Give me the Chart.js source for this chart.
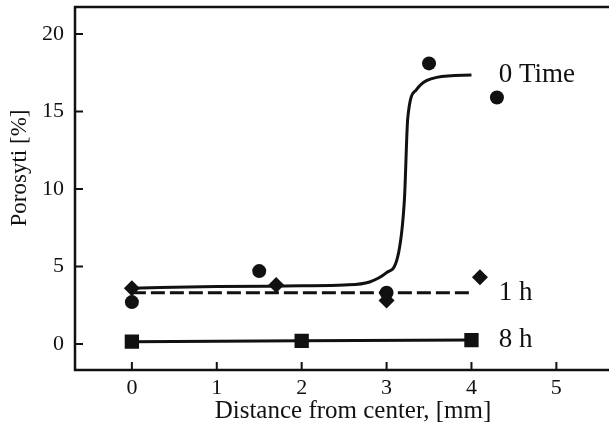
<!DOCTYPE html>
<html>
<head>
<meta charset="utf-8">
<script src="https://cdn.jsdelivr.net/npm/chart.js@4/dist/chart.umd.min.js"></script>
<style>
  body { margin: 0; background: #fff; }
  #wrap { width: 609px; height: 428px; }
</style>
</head>
<body>
<div id="wrap"><canvas id="porosityChart" width="609" height="428"></canvas></div>
<script>
// measured points, 0 Time (circles)
const time0X = [0, 1.5, 3, 3.5, 4.3];
const time0Y = [2.7, 4.7, 3.3, 18.1, 15.9];
// fitted curve for 0 Time
const curve0X = [0, 1, 2, 2.5, 2.8, 3.0, 3.13, 3.21, 3.25, 3.35, 3.59, 4.0];
const curve0Y = [3.6, 3.7, 3.75, 3.8, 4.0, 4.6, 5.6, 9.3, 14.6, 16.4, 17.2, 17.35];
// 1 h (diamonds) and its dashed fit
const h1X = [0, 1.7, 3, 4.1];
const h1Y = [3.6, 3.8, 2.8, 4.3];
const h1LineX = [0, 4];
const h1LineY = [3.3, 3.3];
// 8 h (squares)
const h8X = [0, 2, 4];
const h8Y = [0.15, 0.2, 0.25];

const xTicks = [0, 1, 2, 3, 4, 5];
const yTicks = [0, 5, 10, 15, 20];

const seriesNames = ['0 Time', '1 h', '8 h'];
const nameX = [4.32, 4.32, 4.32];
const nameY = [17.35, 3.3, 0.26];

const xTitle = 'Distance from center, [mm]';
const yTitle = 'Porosyti [%]';

const serif = '"Liberation Serif", "Times New Roman", serif';
const ink = '#111';

function pts(xs, ys)
{
    return xs.map((x, i) => ({ x: x, y: ys[i] }));
}

// no extra room for end labels, so the plot box sits where the original does
function noPad(s)
{
    s.paddingTop = 0;
    s.paddingBottom = 0;
    s.paddingLeft = 0;
    s.paddingRight = 0;
}

//Frame, inward ticks, titles and series names
const decorPlugin = {
    id: 'decor',
    afterDraw(chart) {
        const ctx = chart.ctx;
        const a = chart.chartArea;
        const xs = chart.scales.x;
        const ys = chart.scales.y;
        ctx.save();
        ctx.strokeStyle = ink;
        ctx.lineWidth = 2.5;
        ctx.beginPath();
        ctx.moveTo(chart.width, a.top);
        ctx.lineTo(a.left, a.top);
        ctx.lineTo(a.left, a.bottom);
        ctx.lineTo(chart.width, a.bottom);
        ctx.stroke();

        ctx.lineWidth = 2;
        ctx.beginPath();
        xTicks.forEach(v => {
            const px = xs.getPixelForValue(v);
            ctx.moveTo(px, a.bottom);
            ctx.lineTo(px, a.bottom - 8);
        });
        yTicks.forEach(v => {
            const py = ys.getPixelForValue(v);
            ctx.moveTo(a.left, py);
            ctx.lineTo(a.left + 8, py);
        });
        ctx.stroke();

        ctx.fillStyle = ink;
        ctx.textBaseline = 'middle';
        ctx.textAlign = 'left';
        ctx.font = '27px ' + serif;
        seriesNames.forEach((s, i) => {
            ctx.fillText(s, xs.getPixelForValue(nameX[i]), ys.getPixelForValue(nameY[i]));
        });

        ctx.textAlign = 'center';
        ctx.font = '25px ' + serif;
        ctx.fillText(xTitle, 353, 411);

        ctx.save();
        ctx.translate(20, 168);
        ctx.rotate(-Math.PI / 2);
        ctx.font = '23px ' + serif;
        ctx.fillText(yTitle, 0, 0);
        ctx.restore();
        ctx.restore();
    }
};

const ctx = document.getElementById('porosityChart').getContext('2d');
new Chart(ctx, {
    type: 'scatter',
    data: {
        datasets: [
            {
                label: '0 Time fit',
                data: pts(curve0X, curve0Y),
                showLine: true,
                borderColor: ink,
                borderWidth: 3,
                pointRadius: 0,
                cubicInterpolationMode: 'monotone'
            },
            {
                label: '1 h fit',
                data: pts(h1LineX, h1LineY),
                showLine: true,
                borderColor: ink,
                borderWidth: 3,
                borderDash: [14, 5],
                pointRadius: 0
            },
            {
                label: '8 h',
                data: pts(h8X, h8Y),
                showLine: true,
                borderColor: ink,
                borderWidth: 3,
                pointStyle: 'rect',
                pointRadius: 8,
                backgroundColor: ink,
                pointBackgroundColor: ink
            },
            {
                label: '0 Time',
                data: pts(time0X, time0Y),
                pointStyle: 'circle',
                pointRadius: 7,
                pointBorderWidth: 0,
                pointBackgroundColor: ink
            },
            {
                label: '1 h',
                data: pts(h1X, h1Y),
                pointStyle: 'rectRot',
                pointRadius: 8,
                pointBorderWidth: 0,
                pointBackgroundColor: ink
            }
        ]
    },
    options: {
        responsive: false,
        animation: false,
        devicePixelRatio: 1,
        layout: { autoPadding: false, padding: { top: 7, right: 0, left: 0, bottom: 0 } },
        plugins: {
            legend: { display: false },
            tooltip: { enabled: false }
        },
        scales: {
            x: {
                type: 'linear',
                min: -0.67,
                max: 5.62,
                afterBuildTicks: s => { s.ticks = xTicks.map(v => ({ value: v })); },
                afterFit: s => { s.height = 58; noPad(s); },
                grid: { display: false, drawTicks: false },
                border: { display: false },
                ticks: { color: ink, padding: 5, font: { family: serif, size: 22 } }
            },
            y: {
                type: 'linear',
                min: -1.68,
                max: 21.74,
                afterBuildTicks: s => { s.ticks = yTicks.map(v => ({ value: v })); },
                afterFit: s => { s.width = 75; noPad(s); },
                grid: { display: false, drawTicks: false },
                border: { display: false },
                ticks: { color: ink, padding: 11, font: { family: serif, size: 22 } }
            }
        }
    },
    plugins: [decorPlugin]
});
</script>
</body>
</html>
